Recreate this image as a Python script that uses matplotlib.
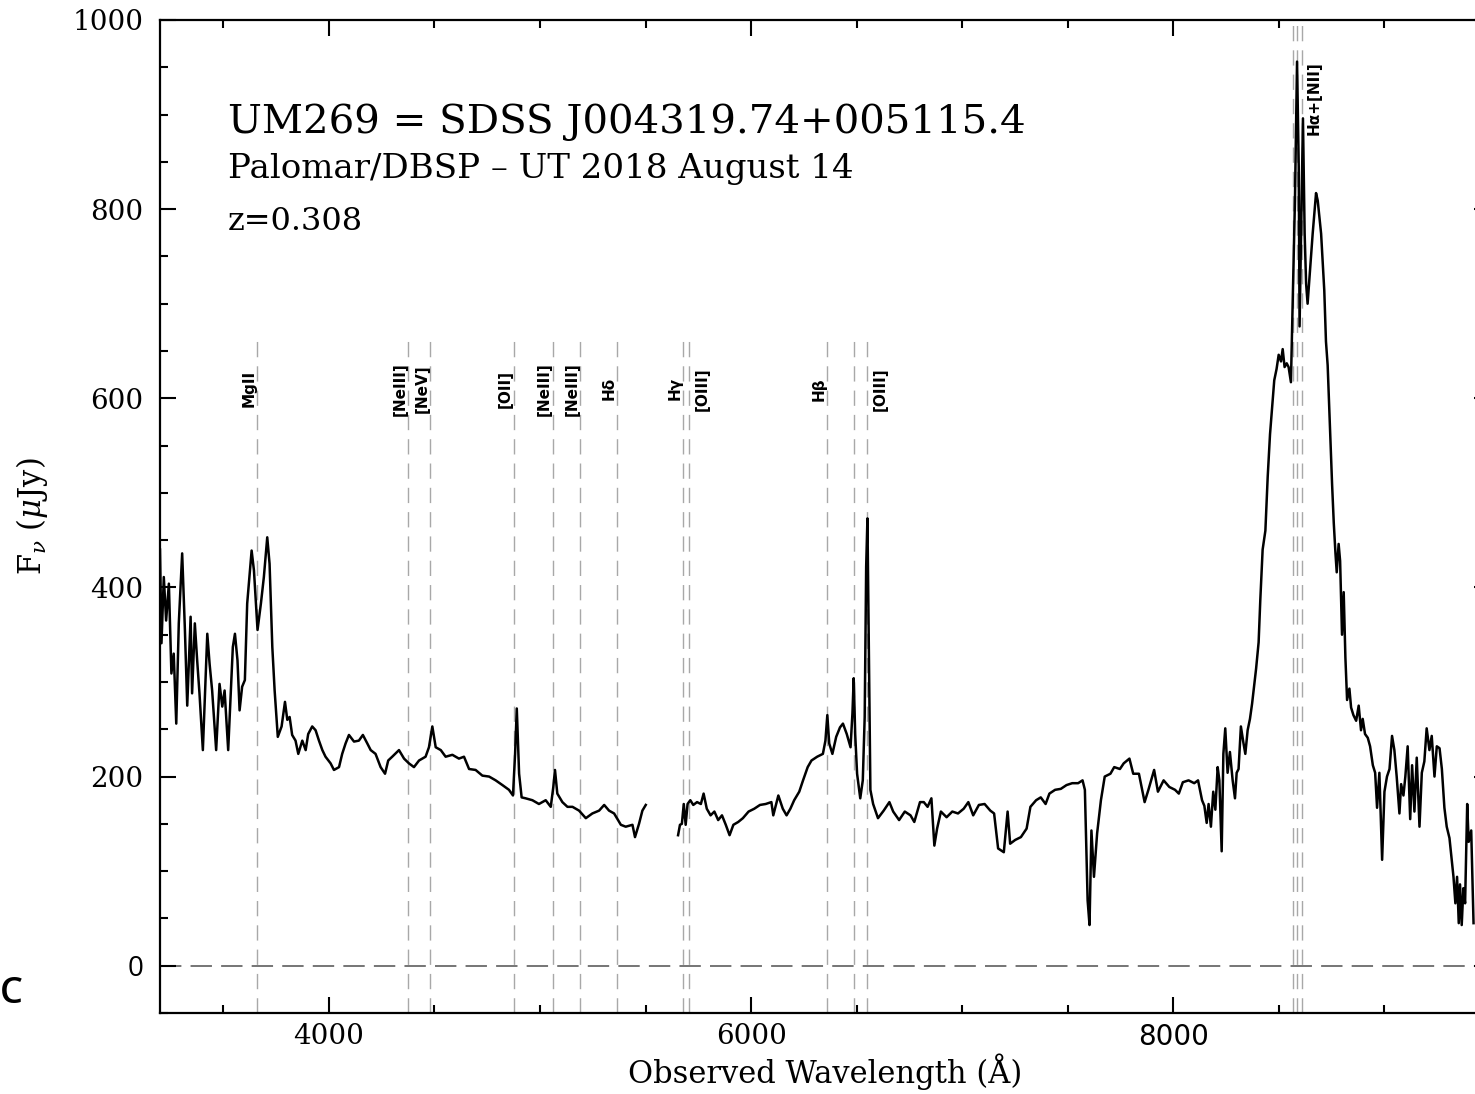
import numpy as np
import matplotlib
matplotlib.use("Agg")
import matplotlib.pyplot as plt
from matplotlib.ticker import MultipleLocator, FixedLocator
from matplotlib.transforms import offset_copy

plt.rcParams['font.family'] = ['DejaVu Serif']
plt.rcParams['mathtext.fontset'] = 'dejavuserif'

# ---------------- data ----------------
redshift = 0.308

# blue arm
blue_wave = [3200, 3207, 3218, 3229, 3242, 3254, 3265, 3277, 3289, 3305, 3318, 3329, 3345, 3352, 3365, 3376,
             3387, 3403, 3424, 3435, 3447, 3466, 3482, 3495, 3506, 3523, 3545, 3555, 3567, 3577, 3589, 3602,
             3613, 3634, 3645, 3662, 3678, 3692, 3708, 3719, 3732, 3743, 3758, 3776, 3792, 3803, 3814, 3826,
             3842, 3855, 3874, 3890, 3902, 3921, 3937, 3953, 3969, 3984, 4008, 4024, 4048, 4063, 4079, 4095,
             4119, 4142, 4161, 4182, 4198, 4221, 4245, 4266, 4281, 4300, 4332, 4356, 4379, 4403, 4427, 4458,
             4474, 4490, 4506, 4530, 4553, 4585, 4616, 4640, 4664, 4695, 4727, 4759, 4790, 4822, 4853, 4872,
             4882, 4890, 4901, 4913, 4932, 4964, 4995, 5027, 5051, 5063, 5071, 5082, 5106, 5130, 5154, 5185,
             5217, 5248, 5280, 5304, 5327, 5351, 5383, 5406, 5438, 5450, 5469, 5485, 5501]
blue_flux = [440, 341, 411, 365, 404, 309, 330, 256, 362, 436, 355, 275, 369, 288, 362, 323,
             288, 228, 351, 319, 291, 228, 298, 274, 291, 228, 337, 351, 323, 270, 295, 302,
             383, 439, 418, 355, 383, 411, 453, 425, 337, 291, 242, 253, 279, 260, 263, 244,
             238, 224, 238, 228, 245, 253, 249, 238, 228, 221, 214, 207, 210, 224, 235, 244,
             237, 238, 244, 235, 228, 224, 210, 203, 217, 221, 228, 219, 214, 210, 217, 221,
             231, 253, 231, 228, 221, 223, 219, 221, 208, 207, 201, 200, 196, 191, 186, 180,
             224, 272, 203, 178, 177, 175, 171, 175, 168, 189, 207, 182, 173, 168, 168, 164,
             156, 161, 164, 170, 164, 161, 149, 147, 149, 136, 150, 164, 170]

# red arm
red_wave = [5654, 5663, 5672, 5681, 5690, 5699, 5712, 5726, 5744, 5762, 5775, 5790, 5808, 5826, 5844, 5862,
            5880, 5898, 5916, 5939, 5961, 5988, 6015, 6042, 6069, 6096, 6105, 6129, 6150, 6168, 6186, 6204,
            6228, 6246, 6268, 6286, 6313, 6340, 6352, 6361, 6370, 6385, 6403, 6421, 6435, 6453, 6471, 6480,
            6486, 6493, 6502, 6517, 6529, 6538, 6545, 6551, 6556, 6565, 6578, 6601, 6628, 6655, 6673, 6701,
            6728, 6755, 6773, 6800, 6818, 6836, 6854, 6868, 6881, 6899, 6926, 6953, 6980, 7007, 7029, 7052,
            7079, 7106, 7133, 7151, 7170, 7197, 7215, 7227, 7251, 7278, 7305, 7323, 7350, 7372, 7395, 7413,
            7440, 7467, 7494, 7521, 7549, 7570, 7581, 7594, 7603, 7612, 7624, 7639, 7657, 7675, 7702, 7720,
            7747, 7765, 7792, 7810, 7837, 7864, 7882, 7909, 7927, 7954, 7981, 8008, 8026, 8045, 8072, 8099,
            8117,
            8136, 8147, 8158, 8167, 8178, 8189, 8199, 8210, 8218, 8229, 8237, 8246, 8257, 8268, 8281, 8292,
            8300, 8309, 8320, 8331, 8341, 8352, 8363, 8373, 8380, 8392, 8404, 8412, 8423, 8436, 8447, 8458,
            8467, 8478, 8489, 8499, 8510, 8518, 8527, 8537, 8546, 8557,
            8565, 8576, 8586, 8594, 8598, 8605, 8614, 8622, 8629, 8636, 8644, 8660, 8676, 8684, 8700, 8715,
            8723,
            8731, 8742, 8752, 8760, 8768, 8774, 8783, 8790, 8799, 8807, 8815, 8823, 8834, 8842, 8853, 8866,
            8878, 8889, 8897, 8908, 8921, 8932, 8945, 8956, 8965, 8976, 8989, 9000, 9012, 9024, 9036, 9047,
            9058, 9071, 9079, 9090, 9099, 9110, 9122, 9131, 9142, 9153, 9166, 9177, 9189, 9200, 9213, 9224,
            9237, 9248, 9261, 9272, 9284, 9295, 9308, 9316, 9327, 9336, 9344, 9352, 9358, 9366, 9374, 9382,
            9392, 9399, 9411, 9422]
red_flux = [138, 149, 150, 171, 149, 171, 175, 170, 173, 171, 182, 166, 159, 163, 154, 159,
            149, 138, 149, 152, 156, 163, 166, 170, 171, 173, 159, 180, 166, 159, 166, 175,
            184, 196, 210, 217, 221, 224, 238, 265, 235, 224, 242, 252, 256, 245, 231, 267,
            304, 245, 203, 177, 196, 263, 422, 473, 369, 186, 171, 156, 164, 173, 163, 154,
            163, 159, 152, 173, 173, 168, 177, 127, 145, 163, 157, 163, 161, 166, 173, 159,
            170, 171, 164, 161, 124, 120, 163, 129, 133, 136, 145, 168, 175, 178, 171, 182,
            186, 187, 191, 193, 193, 196, 186, 69, 43, 143, 94, 140, 175, 200, 203, 210,
            208, 214, 219, 203, 203, 173, 186, 207, 184, 196, 189, 186, 182, 194, 196, 193,
            196,
            175, 169, 151, 171, 147, 184, 165, 210, 196, 121, 224, 251, 204, 226, 196, 177,
            204, 208, 253, 237, 224, 249, 261, 277, 291, 314, 342, 387, 440, 460, 517, 562,
            587, 619, 631, 646, 639, 652, 633, 637, 633, 617,
            697, 809, 956, 845, 676, 774, 896, 774, 721, 700, 725, 774, 817, 809, 774, 714,
            660,
            635, 570, 509, 468, 436, 416, 446, 428, 350, 395, 326, 281, 293, 273, 265, 259,
            275, 249, 261, 245, 241, 232, 212, 204, 167, 204, 112, 184, 200, 208, 243, 228,
            200, 161, 192, 180, 200, 232, 155, 212, 163, 220, 147, 204, 216, 251, 228, 243,
            200, 232, 230, 208, 167, 147, 135, 118, 94, 66, 94, 45, 86, 43, 82, 66,
            171, 131, 143, 45]

# emission lines (rest wavelengths, Angstrom) and their labels
line_rest = [2798, 3346, 3426, 3727, 3869, 3968, 4102, 4340, 4363, 4861, 4959, 5007]
line_labels = ['MgII', '[NeIII]', '[NeV]', '[OII]', '[NeIII]', '[NeIII]', 'Hδ', 'Hγ', '[OIII]', 'Hβ', '', '[OIII]']
halpha_rest = [6548, 6563, 6583]
halpha_label = 'Hα+[NII]'

title_lines = ['UM269 = SDSS J004319.74+005115.4',
               'Palomar/DBSP \u2013 UT 2018 August 14',
               'z=0.308']

# ---------------- figure ----------------
W, H = 1475, 1094
fig = plt.figure(figsize=(W / 100, H / 100), dpi=100)
ax = fig.add_axes([160 / W, (H - 1013) / H, 1330 / W, 993 / H])

ax.set_xlim(3200, 9500)
ax.set_ylim(-50, 1000)

grey = '#a8a8a8'
for rest, lab in zip(line_rest, line_labels):
    xobs = rest * (1 + redshift)
    ax.plot([xobs, xobs], [-50, 667], color=grey, lw=1.0, dashes=(11, 6.5), zorder=1)
    if lab:
        dx = 9.4 if lab == '[OIII]' else -5.8
        tr = offset_copy(ax.transData, fig=fig, x=dx, y=0, units='points')
        ax.text(xobs, 610, lab, transform=tr, rotation=90, ha='center', va='center',
                fontsize=11, fontweight='bold', family=['DejaVu Sans'])
for rest in halpha_rest:
    xobs = rest * (1 + redshift)
    ax.plot([xobs, xobs], [-50, 1000], color=grey, lw=1.0, dashes=(11, 6.5), zorder=1)
tr = offset_copy(ax.transData, fig=fig, x=8.6, y=0, units='points')
ax.text(halpha_rest[-1] * (1 + redshift), 917, halpha_label, transform=tr, rotation=90,
        ha='center', va='center', fontsize=11, fontweight='bold', family=['DejaVu Sans'])

ax.axhline(0, color='#505050', lw=1.1, dashes=(14, 6), zorder=1)

ax.plot(blue_wave, blue_flux, color='black', lw=1.8, zorder=3)
ax.plot(red_wave, red_flux, color='black', lw=1.8, zorder=3)

# axes styling
for s in ax.spines.values():
    s.set_linewidth(1.6)
ax.xaxis.set_major_locator(FixedLocator([4000, 6000, 8000]))
ax.xaxis.set_minor_locator(MultipleLocator(500))
ax.yaxis.set_major_locator(FixedLocator([0, 200, 400, 600, 800, 1000]))
ax.yaxis.set_minor_locator(MultipleLocator(50))
ax.tick_params(which='both', direction='in', top=True, right=True, width=1.5)
ax.tick_params(which='major', length=11.5, labelsize=20)
ax.tick_params(which='minor', length=6)
ax.tick_params(axis='y', pad=12)
ax.tick_params(axis='x', pad=7)

ax.set_xlabel('Observed Wavelength (Å)', fontsize=22, labelpad=2)
ax.set_ylabel(r'F$_\nu$ ($\mu$Jy)', fontsize=22)
ax.yaxis.set_label_coords(-0.083, 0.5)

ax.text(0.0511, 0.886, title_lines[0], transform=ax.transAxes, fontsize=29, va='baseline')
ax.text(0.0511, 0.841, title_lines[1], transform=ax.transAxes, fontsize=24.5, va='baseline')
ax.text(0.0511, 0.789, title_lines[2], transform=ax.transAxes, fontsize=23, va='baseline')

fig.text(0.0, 1 - 994 / H, 'C', fontsize=26, family=['Open Sans'], fontweight='semibold',
         ha='left', va='center')

fig.canvas.draw()
for lab in ax.get_yticklabels():
    if lab.get_text() == '0':
        lab.set_fontfamily(['Open Sans'])
for lab in ax.get_xticklabels():
    if lab.get_text() == '8000':
        lab.set_fontfamily(['DejaVu Sans'])

fig.savefig('out.png', dpi=100)
